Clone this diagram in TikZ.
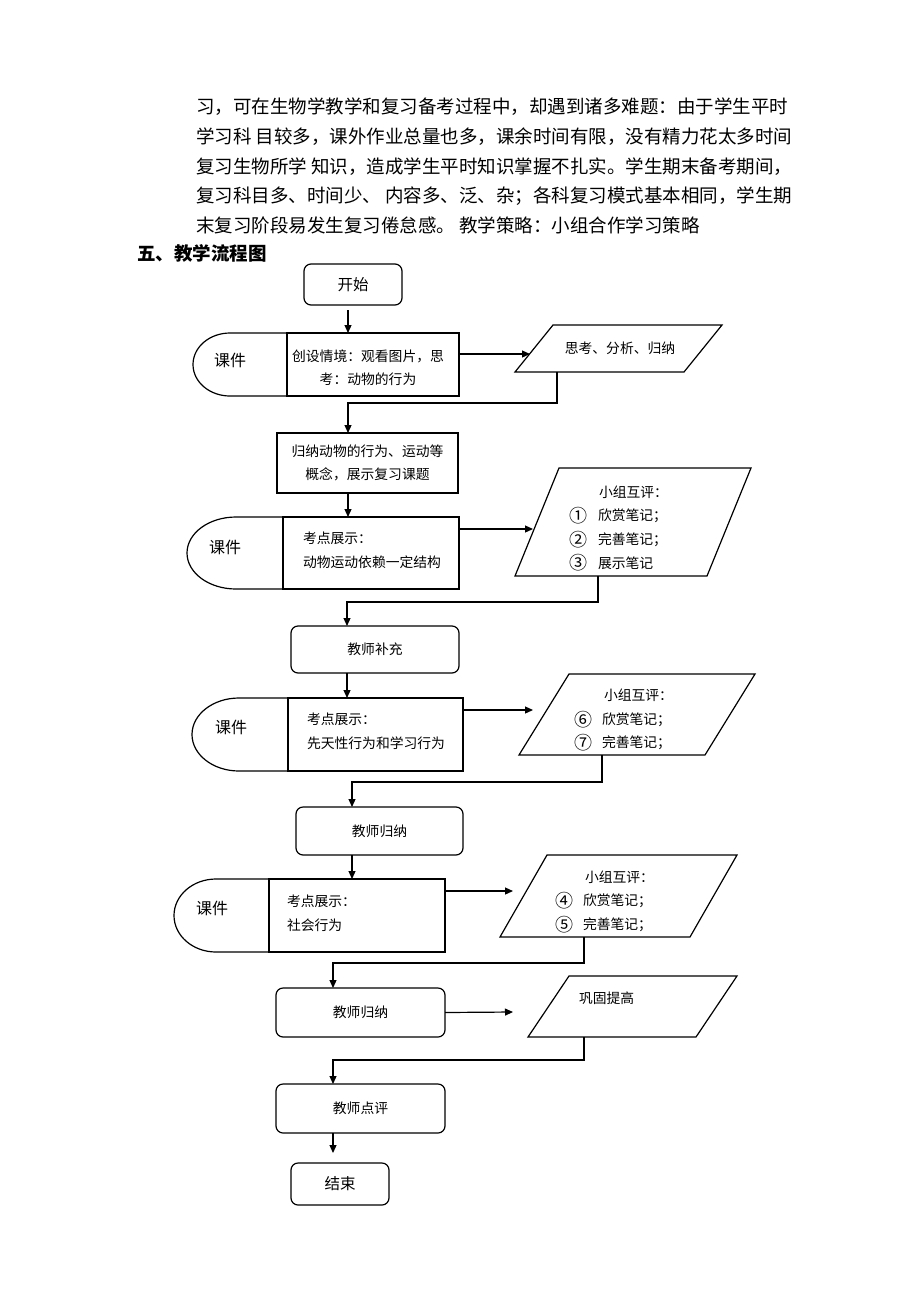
\documentclass[tikz,border=0pt]{standalone}
\usepackage{fontspec}
\setmainfont{Noto Sans CJK SC}
\usetikzlibrary{arrows.meta,calc}
\tikzset{
  line/.style={draw=black, line width=1.2pt},
  boxn/.style={line, inner sep=0pt, outer sep=0pt},
  rbox/.style={boxn, rounded corners=7pt},
  pbox/.style={inner sep=0pt, outer sep=0pt},
  txt/.style={inner sep=0pt, outer sep=0pt, font=\fontsize{13.8}{23.5}\selectfont},
  circ/.style={inner sep=0pt, outer sep=0pt, font=\fontsize{18}{20}\selectfont},
  big/.style={inner sep=0pt, outer sep=0pt, font=\fontsize{16}{18}\selectfont},
  para/.style={inner sep=0pt, outer sep=0pt, anchor=west, font=\fontsize{18.5}{20}\selectfont},
  arr/.style={line, -{Triangle[length=8pt,width=7pt]}},
  con/.style={line}
}
\newcommand\drawpara[2]{\draw[line] ([xshift=#2pt]#1.north west) -- (#1.north east) -- ([xshift=-#2pt]#1.south east) -- (#1.south west) -- cycle;}
\newcommand\kjcap[5]{% node, xs, top, rx, ry
  \draw[line] (#1.north west) -- (#2,#3) arc[start angle=270, end angle=90, x radius=#4, y radius=#5] -- (#1.south west);}
\begin{document}
\begin{tikzpicture}[x=1pt,y=-1pt]
\useasboundingbox (0,0) rectangle (920,1302);
\fill[white] (0,0) rectangle (920,1302);

% paragraph
\node[para] (l1) at (196,107) {习，可在生物学教学和复习备考过程中，却遇到诸多难题：由于学生平时};
\node[para] (l2) at (196,137) {学习科 目较多，课外作业总量也多，课余时间有限，没有精力花太多时间};
\node[para] (l3) at (196,167) {复习生物所学 知识，造成学生平时知识掌握不扎实。学生期末备考期间，};
\node[para] (l4) at (196,196) {复习科目多、时间少、 内容多、泛、杂；各科复习模式基本相同，学生期};
\node[para] (l5) at (196,225) {末复习阶段易发生复习倦怠感。 教学策略：小组合作学习策略};
\node[para, font=\fontsize{18.5}{20}\selectfont\bfseries] (hd) at (137,253) {五、教学流程图};

% main boxes
\node[rbox, minimum width=98pt, minimum height=41pt, font=\fontsize{15.5}{18}\selectfont] (start) at (353,284.5) {开始};
\node[boxn, minimum width=172pt, minimum height=63pt] (r1) at (373,364.5) {};
\node[boxn, minimum width=181pt, minimum height=60pt, txt, align=center] (s1) at (367.5,463) {归纳动物的行为、运动等\\概念，展示复习课题};
\node[boxn, minimum width=176pt, minimum height=72pt] (r2) at (371,553) {};
\node[rbox, minimum width=168pt, minimum height=47pt, txt] (b1) at (375,649.5) {教师补充};
\node[boxn, minimum width=175pt, minimum height=73pt] (r3) at (375.5,734.5) {};
\node[rbox, minimum width=167pt, minimum height=48pt, txt] (b2) at (379.5,831) {教师归纳};
\node[boxn, minimum width=176pt, minimum height=73pt] (r4) at (357,915.5) {};
\node[rbox, minimum width=169pt, minimum height=49pt, txt] (b3) at (360.5,1012.5) {教师归纳};
\node[rbox, minimum width=169pt, minimum height=49pt, txt] (b4) at (360.5,1108.5) {教师点评};
\node[rbox, minimum width=98pt, minimum height=42pt, font=\fontsize{15.5}{18}\selectfont] (end) at (340,1184) {结束};

% left caps of courseware shapes
\kjcap{r1}{230}{333}{37}{31.5}
\kjcap{r2}{236}{517}{49}{36}
\kjcap{r3}{239}{698}{47}{36.5}
\kjcap{r4}{216}{879}{42}{36.5}

\node[big] (k1) at (230,360) {课件};
\node[big] (k2) at (225,547) {课件};
\node[big] (k3) at (231,727) {课件};
\node[big] (k4) at (212,908) {课件};

% texts in courseware boxes
\node[txt, align=center] (t1) at (368,367.5) {创设情境：观看图片，思\\考：动物的行为};
\node[txt, align=left, anchor=west] (t2) at (303,550.5) {考点展示：\\动物运动依赖一定结构};
\node[txt, align=left, anchor=west] (t3) at (307,731.5) {考点展示：\\先天性行为和学习行为};
\node[txt, align=left, anchor=west] (t4) at (287,913.5) {考点展示：\\社会行为};

% parallelograms
\node[pbox, minimum width=207pt, minimum height=47pt] (p1) at (618.5,348.5) {};
\node[pbox, minimum width=236pt, minimum height=108pt] (p2) at (633,522) {};
\node[pbox, minimum width=236pt, minimum height=81pt] (p3) at (637,714.5) {};
\node[pbox, minimum width=237pt, minimum height=82pt] (p4) at (618.5,896) {};
\node[pbox, minimum width=209pt, minimum height=61pt] (p5) at (632.5,1006.5) {};
\drawpara{p1}{38}
\drawpara{p2}{44}
\drawpara{p3}{50}
\drawpara{p4}{47}
\drawpara{p5}{41}

\node[txt] (q1) at (620,348) {思考、分析、归纳};

\node[txt, anchor=west] (q2h) at (599,492) {小组互评：};
\node[circ] (q2a) at (578,516) {①};
\node[txt, anchor=west] (q2at) at (598,516) {欣赏笔记；};
\node[circ] (q2b) at (578,540) {②};
\node[txt, anchor=west] (q2bt) at (598,540) {完善笔记；};
\node[circ] (q2c) at (578,563) {③};
\node[txt, anchor=west] (q2ct) at (598,563) {展示笔记};

\node[txt, anchor=west] (q3h) at (604,695) {小组互评：};
\node[circ] (q3a) at (583,720) {⑥};
\node[txt, anchor=west] (q3at) at (602,720) {欣赏笔记；};
\node[circ] (q3b) at (583,743) {⑦};
\node[txt, anchor=west] (q3bt) at (602,743) {完善笔记；};

\node[txt, anchor=west] (q4h) at (585,877) {小组互评：};
\node[circ] (q4a) at (564,901) {④};
\node[txt, anchor=west] (q4at) at (583,901) {欣赏笔记；};
\node[circ] (q4b) at (564,925) {⑤};
\node[txt, anchor=west] (q4bt) at (583,925) {完善笔记；};

\node[txt, anchor=west] (q5) at (579,998) {巩固提高};

% vertical arrows
\draw[arr] ([xshift=-5pt,yshift=-5pt]start.south) -- ([xshift=-25pt]r1.north);
\draw[arr] ([xshift=-19.5pt]s1.south) -- ([xshift=-23pt]r2.north);
\draw[arr] ([xshift=-28pt]b1.south) -- ([xshift=-28.5pt]r3.north);
\draw[arr] ([xshift=-27.5pt]b2.south) -- ([xshift=-5pt]r4.north);
\draw[arr] ([xshift=-27.5pt]b4.south) -- ([xshift=-7pt,yshift=10pt]end.north);

% horizontal arrows
\draw[arr] ([yshift=10.5pt]r1.east) -- ([xshift=15pt,yshift=-5.5pt]p1.west);
\draw[arr] ([yshift=24pt]r2.east) -- ([xshift=18pt,yshift=-7pt]p2.west);
\draw[arr] ([yshift=24.5pt]r3.east) -- ([xshift=14pt,yshift=4.5pt]p3.west);
\draw[arr] ([yshift=24.5pt]r4.east) -- ([xshift=13pt,yshift=5pt]p4.west);
\draw[arr] (b3.east) -- ([xshift=-15pt,yshift=-5.5pt]p5.west);

% return lines
\draw[arr] ([xshift=-61.5pt]p1.south) -- ++(0,31) -| ([xshift=-19.5pt]s1.north);
\draw[arr] ([xshift=-35pt]p2.south) -- ++(0,26) -| ([xshift=-28pt]b1.north);
\draw[arr] ([xshift=-35pt]p3.south) -- ++(0,27) -| ([xshift=-27.5pt]b2.north);
\draw[arr] ([xshift=-34.5pt]p4.south) -- ++(0,26) -| ([xshift=-27.5pt]b3.north);
\draw[arr] ([xshift=-48.5pt]p5.south) -- ++(0,23) -| ([xshift=-27.5pt]b4.north);
\end{tikzpicture}
\end{document}
